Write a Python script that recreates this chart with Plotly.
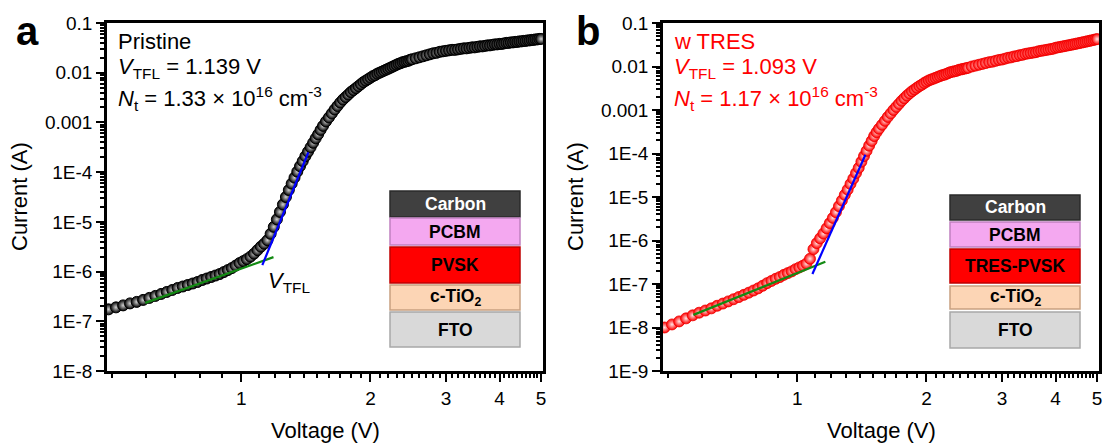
import math
import plotly.graph_objects as go

# ---------------- data ----------------
voltage = [
    0.49, 0.51, 0.53, 0.55, 0.57, 0.59, 0.61, 0.63, 0.65, 0.67, 0.69, 0.71,
    0.73, 0.75, 0.77, 0.79, 0.81, 0.83, 0.85, 0.87, 0.89, 0.91, 0.93, 0.95,
    0.97, 0.99, 1.01, 1.03, 1.05, 1.07, 1.09, 1.11, 1.13, 1.15,
    1.17, 1.19, 1.21, 1.23, 1.25, 1.27, 1.29, 1.31, 1.33, 1.35,
    1.37, 1.39, 1.41, 1.43, 1.45, 1.47, 1.49, 1.51, 1.53, 1.55,
    1.575, 1.600, 1.625, 1.650, 1.675, 1.700, 1.725, 1.750, 1.775, 1.800,
    1.825, 1.850, 1.875, 1.900, 1.925, 1.950, 1.975,
    2.000, 2.025, 2.050, 2.075, 2.100, 2.125, 2.150, 2.175, 2.200, 2.225,
    2.250, 2.275, 2.300, 2.325, 2.350, 2.375, 2.400, 2.425, 2.450, 2.475, 2.500,
    2.55, 2.60, 2.65, 2.70, 2.75, 2.80, 2.85, 2.90, 2.95, 3.00,
    3.05, 3.10, 3.15, 3.20, 3.25, 3.30, 3.35, 3.40, 3.45, 3.50, 3.55, 3.60,
    3.65, 3.70, 3.75, 3.80, 3.85, 3.90, 3.95, 4.00, 4.05, 4.10, 4.15, 4.20,
    4.25, 4.30, 4.35, 4.40, 4.45, 4.50, 4.55, 4.60, 4.65, 4.70, 4.75, 4.80,
    4.85, 4.90, 4.95, 5.00,
]

# log10 of current (A), pristine device
log_current_pristine = [
    -6.76, -6.72, -6.68, -6.64, -6.61, -6.57, -6.53, -6.49, -6.45, -6.41, -6.37, -6.33,
    -6.30, -6.27, -6.24, -6.21, -6.17, -6.14, -6.11, -6.08, -6.05, -6.01, -5.97, -5.93,
    -5.88, -5.83, -5.79, -5.75, -5.70, -5.64, -5.57, -5.50, -5.44, -5.37,
    -5.24, -5.10, -4.95, -4.80, -4.65, -4.50, -4.36, -4.23, -4.11, -3.99,
    -3.88, -3.78, -3.68, -3.59, -3.50, -3.41, -3.32, -3.24, -3.15, -3.07,
    -2.98, -2.90, -2.82, -2.74, -2.67, -2.60, -2.54, -2.49, -2.44, -2.39,
    -2.35, -2.31, -2.27, -2.23, -2.19, -2.16, -2.13,
    -2.10, -2.07, -2.05, -2.02, -2.00, -1.98, -1.96, -1.94, -1.92, -1.90,
    -1.88, -1.86, -1.84, -1.82, -1.81, -1.79, -1.78, -1.77, -1.76, -1.74, -1.73,
    -1.71, -1.69, -1.67, -1.65, -1.63, -1.61, -1.60, -1.58, -1.57, -1.56,
    -1.55, -1.54, -1.54, -1.53, -1.52, -1.51, -1.51, -1.50, -1.49, -1.49, -1.48, -1.47,
    -1.47, -1.46, -1.45, -1.45, -1.44, -1.43, -1.43, -1.42, -1.42, -1.41, -1.40, -1.40,
    -1.39, -1.39, -1.38, -1.38, -1.37, -1.37, -1.36, -1.36, -1.35, -1.35, -1.34, -1.34,
    -1.33, -1.33, -1.32, -1.32,
]

# log10 of current (A), device with TRES
log_current_tres = [
    -8.00, -7.93, -7.86, -7.79, -7.72, -7.66, -7.61, -7.56, -7.50, -7.45, -7.40, -7.35,
    -7.30, -7.25, -7.20, -7.15, -7.10, -7.04, -6.98, -6.93, -6.88, -6.84, -6.79, -6.75,
    -6.71, -6.66, -6.62, -6.58, -6.53, -6.42, -6.20, -6.06, -5.95, -5.84,
    -5.72, -5.60, -5.48, -5.35, -5.21, -5.08, -4.95, -4.83, -4.70, -4.58,
    -4.45, -4.33, -4.19, -4.06, -3.94, -3.82, -3.71, -3.60, -3.51, -3.43,
    -3.34, -3.25, -3.16, -3.08, -3.00, -2.93, -2.86, -2.79, -2.73, -2.67,
    -2.62, -2.57, -2.53, -2.49, -2.45, -2.42, -2.38,
    -2.35, -2.32, -2.30, -2.28, -2.26, -2.24, -2.22, -2.20, -2.19, -2.17,
    -2.15, -2.13, -2.12, -2.11, -2.10, -2.08, -2.07, -2.06, -2.05, -2.04, -2.03,
    -2.00, -1.98, -1.96, -1.94, -1.92, -1.90, -1.89, -1.87, -1.85, -1.84,
    -1.82, -1.80, -1.79, -1.77, -1.76, -1.74, -1.73, -1.71, -1.70, -1.69, -1.68, -1.67,
    -1.65, -1.64, -1.63, -1.62, -1.61, -1.60, -1.59, -1.57, -1.56, -1.55, -1.54, -1.53,
    -1.52, -1.51, -1.50, -1.49, -1.48, -1.47, -1.46, -1.45, -1.44, -1.43, -1.42, -1.41,
    -1.40, -1.39, -1.38, -1.37,
]

# fitted lines (ohmic region and trap-filling region), endpoints
fit_ohmic_pristine_v = [0.597, 1.188]
fit_ohmic_pristine_logi = [-6.63, -5.71]
fit_tfl_pristine_v = [1.119, 1.433]
fit_tfl_pristine_logi = [-5.87, -3.60]
fit_ohmic_tres_v = [0.572, 1.162]
fit_ohmic_tres_logi = [-7.71, -6.49]
fit_tfl_tres_v = [1.084, 1.441]
fit_tfl_tres_logi = [-6.77, -4.03]

x_tick_vals = [1, 2, 3, 4, 5]
x_tick_text = ["1", "2", "3", "4", "5"]
y_tick_vals_a = [1e-8, 1e-7, 1e-6, 1e-5, 1e-4, 1e-3, 1e-2, 1e-1]
y_tick_text_a = ["1E-8", "1E-7", "1E-6", "1E-5", "1E-4", "0.001", "0.01", "0.1"]
y_tick_vals_b = [1e-9] + y_tick_vals_a
y_tick_text_b = ["1E-9"] + y_tick_text_a

stack_layers_a = ["Carbon", "PCBM", "PVSK", "c-TiO<sub>2</sub>", "FTO"]
stack_layers_b = ["Carbon", "PCBM", "TRES-PVSK", "c-TiO<sub>2</sub>", "FTO"]

# ---------------- styling / layout ----------------
W, H = 1111, 446
FONT = "Liberation Sans, Arial, sans-serif"


def px(x):
    return x / W


def py(y):
    return 1 - y / H


def pow10(vals):
    return [10 ** v for v in vals]


fig = go.Figure()

# panel a
fig.add_trace(go.Scatter(
    x=voltage, y=pow10(log_current_pristine), mode="markers", xaxis="x", yaxis="y",
    marker=dict(size=11, color="black", gradient=dict(type="radial", color="#d2d2d2"),
                line=dict(width=1, color="black")), hoverinfo="skip"))
fig.add_trace(go.Scatter(x=fit_ohmic_pristine_v, y=pow10(fit_ohmic_pristine_logi), mode="lines",
                         xaxis="x", yaxis="y", line=dict(color="#138a13", width=2.2)))
fig.add_trace(go.Scatter(x=fit_tfl_pristine_v, y=pow10(fit_tfl_pristine_logi), mode="lines",
                         xaxis="x", yaxis="y", line=dict(color="#0000ff", width=2.2)))

# panel b
fig.add_trace(go.Scatter(
    x=voltage, y=pow10(log_current_tres), mode="markers", xaxis="x2", yaxis="y2",
    marker=dict(size=11, color="#ff0000", gradient=dict(type="radial", color="#ffe6e6"),
                line=dict(width=0.8, color="#ee0000")), hoverinfo="skip"))
fig.add_trace(go.Scatter(x=fit_ohmic_tres_v, y=pow10(fit_ohmic_tres_logi), mode="lines",
                         xaxis="x2", yaxis="y2", line=dict(color="#138a13", width=2.2)))
fig.add_trace(go.Scatter(x=fit_tfl_tres_v, y=pow10(fit_tfl_tres_logi), mode="lines",
                         xaxis="x2", yaxis="y2", line=dict(color="#0000ff", width=2.2)))

x_minor = [round(0.5 + 0.1 * i, 2) for i in range(46) if round(0.5 + 0.1 * i, 2) not in (1.0, 2.0, 3.0, 4.0, 5.0)]


def y_minor(lo, hi):
    return [k * 10 ** e for e in range(lo, hi) for k in range(2, 10)]


xr = [math.log10(0.486), math.log10(5.05)]
ydom = [py(371), py(23)]

axis_common = dict(
    type="log", showgrid=False, zeroline=False, showline=True, linecolor="black",
    linewidth=2.5, mirror=True, ticks="outside", ticklen=8, tickwidth=2, tickcolor="black",
    tickfont=dict(family=FONT, size=19, color="black"), automargin=False,
)

fig.update_layout(
    width=W, height=H, margin=dict(l=0, r=0, t=0, b=0),
    paper_bgcolor="white", plot_bgcolor="white", showlegend=False,
    font=dict(family=FONT, color="black"),
    xaxis=dict(**axis_common, domain=[px(107), px(543)], anchor="y", range=xr,
               tickmode="array", tickvals=x_tick_vals, ticktext=x_tick_text,
               minor=dict(tickmode="array", tickvals=x_minor, ticks="outside", ticklen=4,
                          tickwidth=1.5, tickcolor="black")),
    yaxis=dict(**axis_common, domain=ydom, anchor="x", range=[-8, -1],
               tickmode="array", tickvals=y_tick_vals_a, ticktext=y_tick_text_a,
               minor=dict(tickmode="array", tickvals=y_minor(-8, -1), ticks="outside", ticklen=4,
                          tickwidth=1.5, tickcolor="black")),
    xaxis2=dict(**axis_common, domain=[px(663), px(1099)], anchor="y2", range=xr,
                tickmode="array", tickvals=x_tick_vals, ticktext=x_tick_text,
                minor=dict(tickmode="array", tickvals=x_minor, ticks="outside", ticklen=4,
                           tickwidth=1.5, tickcolor="black")),
    yaxis2=dict(**axis_common, domain=ydom, anchor="x2", range=[-9, -1],
                tickmode="array", tickvals=y_tick_vals_b, ticktext=y_tick_text_b,
                minor=dict(tickmode="array", tickvals=y_minor(-9, -1), ticks="outside", ticklen=4,
                           tickwidth=1.5, tickcolor="black")),
)

ann = []


def text(x, y, s, size=22, color="black", xanchor="left", yanchor="middle", angle=0):
    ann.append(dict(x=px(x), y=py(y), xref="paper", yref="paper", text=s, showarrow=False,
                    xanchor=xanchor, yanchor=yanchor, textangle=angle,
                    font=dict(family=FONT, size=size, color=color)))


# panel labels
text(27, 31, "<b>a</b>", size=40, xanchor="center")
text(588, 31, "<b>b</b>", size=40, xanchor="center")

# info text
text(116, 41, "Pristine")
text(116, 68, "<i>V</i><sub>TFL</sub> = 1.139 V")
text(116, 99, "<i>N</i><sub>t</sub> = 1.33 × 10<sup>16</sup> cm<sup>-3</sup>")
text(672, 41, "w TRES", color="#ff0000")
text(672, 68, "<i>V</i><sub>TFL</sub> = 1.093 V", color="#ff0000")
text(672, 99, "<i>N</i><sub>t</sub> = 1.17 × 10<sup>16</sup> cm<sup>-3</sup>", color="#ff0000")
text(266, 282, "<i>V</i><sub>TFL</sub>")

# axis titles
text(19, 197, "Current (A)", xanchor="center", angle=-90)
text(575, 197, "Current (A)", xanchor="center", angle=-90)
text(325, 430, "Voltage (V)", xanchor="center")
text(881, 430, "Voltage (V)", xanchor="center")

# device stacks
layer_fill = ["#404040", "#f4a8f0", "#ff0000", "#fcd5b5", "#d9d9d9"]
layer_font = ["white", "black", "black", "black", "black"]
layer_edge = ["#2a2a2a", "#c080c0", "#c00000", "#c8a080", "#a8a8a8"]
stack_a_rows = [(191, 217), (218, 245), (247, 283), (285, 310), (312, 347)]
stack_b_rows = [(195, 220), (222, 247), (249, 283), (286, 309), (312, 348)]
shapes = []
for names, rows, (x0, x1) in ((stack_layers_a, stack_a_rows, (390, 520)),
                              (stack_layers_b, stack_b_rows, (950, 1080))):
    for i, (name, (y0, y1)) in enumerate(zip(names, rows)):
        shapes.append(dict(type="rect", xref="paper", yref="paper", x0=px(x0), x1=px(x1),
                           y0=py(y1), y1=py(y0), fillcolor=layer_fill[i],
                           line=dict(color=layer_edge[i], width=1.5), layer="above"))
        text((x0 + x1) / 2, (y0 + y1) / 2, "<b>" + name + "</b>", size=17.5,
             color=layer_font[i], xanchor="center")

fig.update_layout(annotations=ann, shapes=shapes)
fig.write_html("out.html")
